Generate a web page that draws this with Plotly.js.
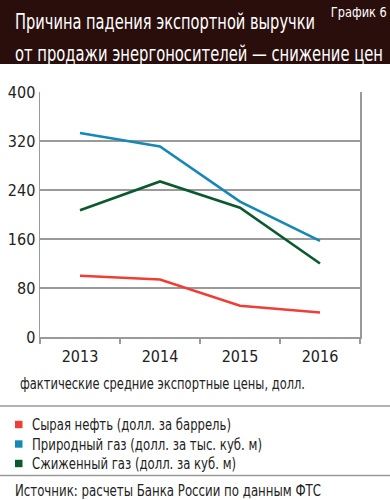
<!DOCTYPE html>
<html><head><meta charset="utf-8">
<script src="https://cdn.plot.ly/plotly-3.0.1.min.js"></script>
<style>html,body{margin:0;padding:0;background:#fff}#chart{width:390px;height:500px}</style>
</head><body><div id="chart"></div>
<script>
const years = ['2013','2014','2015','2016'];
const oil = [100, 94, 51, 40];
const naturalGas = [333, 311, 221, 157];
const lng = [207, 254, 211, 120];
const seriesNames = ['Сырая нефть (долл. за баррель)','Природный газ (долл. за тыс. куб. м)','Сжиженный газ (долл. за куб. м)'];
const colors = ['#ef3e36','#1688b5','#0b5a2e'];
const yTicks = [0,80,160,240,320,400];

const FONT = '"DejaVu Sans Condensed","Liberation Sans Narrow",Roboto,sans-serif';
const series = [oil, naturalGas, lng];
const traces = series.map((s,i)=>({
  x: years, y: s, type:'scatter', mode:'lines', name: seriesNames[i],
  line:{color:colors[i], width:2.6}, hoverinfo:'skip'
}));

const px = x => (x-40)/320;
const py = y => (337-y)/245;
const shapes = [];
shapes.push({type:'rect', xref:'paper', yref:'paper', x0:px(0), x1:px(390), y0:py(64), y1:py(0), fillcolor:'#2a0e0c', line:{width:0}});
shapes.push({type:'line', xref:'paper', yref:'paper', x0:px(0), x1:px(390), y0:py(406), y1:py(406), line:{color:'#9a9a9a', width:1.5}});
shapes.push({type:'line', xref:'paper', yref:'paper', x0:px(0), x1:px(390), y0:py(475.5), y1:py(475.5), line:{color:'#9a9a9a', width:1.5}});
const legY = [424.5,444,463.5];
seriesNames.forEach((n,i)=>{
  shapes.push({type:'rect', xref:'paper', yref:'paper', x0:px(15), x1:px(22.5), y0:py(legY[i]+3.7), y1:py(legY[i]-3.7), fillcolor:colors[i], line:{width:0}});
});

// [annotation, target width in px, anchor side]
const annSpec = [
  [{text:'Причина падения экспортной выручки', x:px(13), y:py(22), xanchor:'left', yanchor:'middle', font:{family:FONT, size:22, color:'#ffffff'}}, 300, 'left'],
  [{text:'от продажи энергоносителей — снижение цен', x:px(13), y:py(53), xanchor:'left', yanchor:'middle', font:{family:FONT, size:22, color:'#ffffff'}}, 368, 'left'],
  [{text:'График 6', x:px(389), y:py(11.5), xanchor:'right', yanchor:'middle', font:{family:FONT, size:13.5, color:'#ffffff'}}, 56, 'right'],
  [{text:'фактические средние экспортные цены, долл.', x:px(18), y:py(384), xanchor:'left', yanchor:'middle', font:{family:FONT, size:15.5, color:'#222'}}, 285, 'left'],
  [{text:'Источник: расчеты Банка России по данным ФТС', x:px(13), y:py(490), xanchor:'left', yanchor:'middle', font:{family:FONT, size:16, color:'#222'}}, 306, 'left'],
];
const legW = [199, 230, 204];
seriesNames.forEach((n,i)=>{
  annSpec.push([{text:n, x:px(30), y:py(legY[i]), xanchor:'left', yanchor:'middle', font:{family:FONT, size:16, color:'#222'}}, legW[i], 'left']);
});
const annotations = annSpec.map(s=>Object.assign(s[0], {xref:'paper', yref:'paper', showarrow:false}));

const layout = {
  width:390, height:500, margin:{l:40, r:30, t:92, b:163},
  paper_bgcolor:'#ffffff', plot_bgcolor:'#ffffff', showlegend:false,
  font:{family:FONT, color:'#222'},
  xaxis:{type:'category', tickson:'boundaries', ticks:'outside', ticklen:5, tickcolor:'#9a9a9a', tickwidth:1.5,
    ticklabelstandoff:4,
    showline:true, linecolor:'#9a9a9a', linewidth:1.5, showgrid:false, tickfont:{family:FONT, size:16, color:'#222'}, range:[-0.5,3.5], fixedrange:true},
  yaxis:{range:[0,400], tickvals:yTicks, ticktext:yTicks.map(String), showgrid:true, gridcolor:'#9a9a9a', gridwidth:1.5,
    showline:true, mirror:true, linecolor:'#9a9a9a', linewidth:1.5, ticks:'', zeroline:false,
    tickfont:{family:FONT, size:16, color:'#222'}, fixedrange:true},
  shapes: shapes, annotations: annotations
};
Plotly.newPlot('chart', traces, layout, {displayModeBar:false, staticPlot:true}).then(gd=>{
  const els = gd.querySelectorAll('text.annotation-text');
  els.forEach((el,i)=>{
    const spec = annSpec[i]; if(!spec) return;
    const b0 = el.getBBox();
    el.setAttribute('textLength', spec[1]);
    el.setAttribute('lengthAdjust', 'spacingAndGlyphs');
    const b1 = el.getBBox();
    const dx = spec[2]==='left' ? (b0.x - b1.x) : ((b0.x+b0.width) - (b1.x+b1.width));
    el.setAttribute('transform', 'translate(' + dx + ',0)');
    // shrink the annotation's background box to the compressed text
    const bg = el.parentNode.querySelector('rect.bg');
    if(bg){
      bg.setAttribute('x', b1.x + dx - 1);
      bg.setAttribute('width', spec[1] + 2);
    }
  });
});
</script></body></html>
